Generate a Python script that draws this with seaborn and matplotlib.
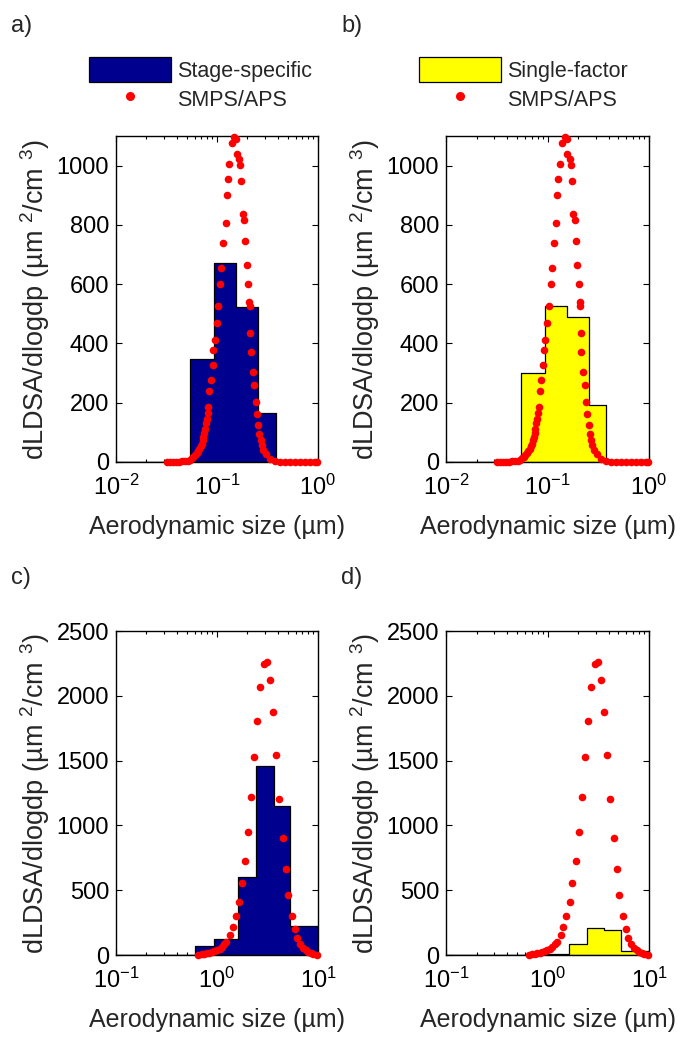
import numpy as np
import pandas as pd
import seaborn as sns
import matplotlib.pyplot as plt
from matplotlib.patches import Patch
from matplotlib.lines import Line2D
from matplotlib.ticker import LogLocator, NullFormatter

# ELPI+ stage cut-points (um) and stage-resolved dLDSA/dlogdp
stage_edges = [0.006, 0.0159, 0.0298, 0.0544, 0.0943, 0.154, 0.254, 0.380,
               0.600, 0.943, 1.62, 2.46, 3.64, 5.34, 10.0]
a_stage = [0, 0, 2, 346, 671, 522, 165, 2, 0, 0, 0, 0, 0, 0]
b_single = [0, 0, 2, 301, 528, 488, 191, 1, 0, 0, 0, 0, 0, 0]
c_stage = [0, 0, 0, 0, 0, 0, 0, 1, 69, 123, 599, 1457, 1148, 224]
d_single = [0, 0, 0, 0, 0, 0, 0, 1, 5, 10, 85, 206, 193, 33]

# SMPS/APS reference distributions
fine_dp = [0.0320, 0.0343, 0.0367, 0.0393, 0.0421, 0.0450, 0.0482, 0.0511, 0.0541,
           0.0562, 0.0583, 0.0605, 0.0629, 0.0649, 0.0669, 0.0687, 0.0706, 0.0719,
           0.0732, 0.0747, 0.0761, 0.0775, 0.0791, 0.0806, 0.0821, 0.0840, 0.0867,
           0.0906, 0.0920, 0.0955, 0.0993, 0.1030, 0.1071, 0.1096, 0.1155, 0.1219,
           0.1246, 0.1276, 0.1324, 0.1399, 0.1474, 0.1542, 0.1567, 0.1652, 0.1690,
           0.1729, 0.1796, 0.1850, 0.1906, 0.1968, 0.2028, 0.2089, 0.2113, 0.2123,
           0.2157, 0.2257, 0.2340, 0.2416, 0.2472, 0.2564, 0.2623, 0.2708, 0.2771,
           0.2873, 0.3055, 0.3347, 0.3752, 0.421, 0.471, 0.528, 0.592, 0.664,
           0.744, 0.834, 0.934, 0.985]
fine_dlds = [0, 0, 0, 1, 1, 2, 2, 5, 8,
             12, 17, 24, 30, 38, 45, 53, 62, 73,
             84, 98, 113, 130, 146, 165, 185, 239, 275,
             326, 379, 413, 469, 525, 599, 653, 739, 808,
             900, 956, 1004, 1078, 1097, 1091, 1040, 1024, 1003,
             947, 838, 816, 745, 664, 599, 541, 528, 436,
             371, 303, 259, 202, 163, 124, 96, 73, 56,
             39, 26, 11, 3, 1, 0, 0, 0, 0,
             0, 0, 0, 0]

coarse_dp = [0.6555, 0.7081, 0.75, 0.7939, 0.84, 0.8894, 0.94, 0.9966, 1.06,
             1.117, 1.18, 1.232, 1.349, 1.435, 1.536, 1.656, 1.761, 1.898,
             2.047, 2.176, 2.346, 2.511, 2.671, 2.925, 3.154, 3.354, 3.615,
             3.845, 4.117, 4.539, 4.793, 5.087, 5.495, 5.925, 6.244, 6.638,
             7.157, 7.6, 8.020, 8.5, 8.985, 9.707]
coarse_dlds = [1, 5, 9, 13, 19, 26, 32, 39, 50,
               64, 82, 103, 154, 218, 303, 406, 553, 725,
               946, 1220, 1524, 1806, 2068, 2249, 2261, 2120, 1876,
               1542, 1203, 904, 663, 463, 303, 200, 129, 82,
               52, 38, 26, 14, 5, 0]

panels = [
    ("a)", a_stage, fine_dp, fine_dlds, (0.01, 1), 1100, range(0, 1001, 200), "Stage-specific", "#00008f"),
    ("b)", b_single, fine_dp, fine_dlds, (0.01, 1), 1100, range(0, 1001, 200), "Single-factor", "#ffff00"),
    ("c)", c_stage, coarse_dp, coarse_dlds, (0.1, 10), 2500, range(0, 2501, 500), None, "#00008f"),
    ("d)", d_single, coarse_dp, coarse_dlds, (0.1, 10), 2500, range(0, 2501, 500), None, "#ffff00"),
]

sns.set_style("ticks")
plt.rcParams['font.family'] = ['Liberation Sans', 'DejaVu Sans']
plt.rcParams['mathtext.fontset'] = 'custom'
plt.rcParams['mathtext.rm'] = 'Liberation Sans'

W, H = 683, 1039
fig = plt.figure(figsize=(W / 100, H / 100), dpi=100)

# axes boxes in pixels: left, top, right, bottom
boxes = [(116, 136, 318, 462), (446, 136, 649, 462),
         (116, 631, 318, 955), (446, 631, 649, 955)]
label_pos = [(11, 26), (341, 26), (11, 578), (341, 578)]
legend_pos = [(89, 57), (419, 57)]

edges = np.array(stage_edges)
mids = np.sqrt(edges[:-1] * edges[1:])

for i, (tag, stage, dp, dlds, xlim, ymax, yticks, lab, col) in enumerate(panels):
    l, t, r, b = boxes[i]
    ax = fig.add_axes([l / W, 1 - b / H, (r - l) / W, (b - t) / H])
    df = pd.DataFrame({"dp": mids, "val": stage})
    sns.histplot(data=df, x="dp", weights="val", bins=list(stage_edges), element="step",
                 fill=True, color=col, edgecolor="black", linewidth=0.9, alpha=1,
                 ax=ax, zorder=2)
    ax.set_xscale("log")
    sns.scatterplot(x=dp, y=dlds, color="red", s=30, linewidth=0, ax=ax,
                    zorder=3, clip_on=False)
    ax.set_xlim(*xlim)
    ax.set_ylim(0, ymax)
    ax.set_yticks(list(yticks))
    ax.xaxis.set_major_locator(LogLocator(base=10, numticks=5))
    ax.xaxis.set_minor_locator(LogLocator(base=10, subs=np.arange(2, 10), numticks=20))
    ax.xaxis.set_minor_formatter(NullFormatter())
    ax.tick_params(which="both", direction="in", top=True, right=True, labelsize=17,
                   width=0.8, colors="black")
    ax.tick_params(which="major", length=4)
    ax.tick_params(axis="y", which="major", pad=5)
    ax.tick_params(axis="x", which="major", pad=9)
    ax.tick_params(which="minor", length=2.5)
    for s in ax.spines.values():
        s.set_linewidth(1.0)
        s.set_color("black")
    ax.set_xlabel("Aerodynamic size (µm)", fontsize=18, labelpad=11)
    ax.set_ylabel("dLDSA/dlogdp (µm $^{2}$/cm $^{3}$)", fontsize=19.5, labelpad=3)
    fig.text(label_pos[i][0] / W, 1 - label_pos[i][1] / H, tag, fontsize=17,
             va="center", ha="left")
    if lab is not None:
        lx, ly = legend_pos[i]
        handles = [Patch(facecolor=col, edgecolor="black", linewidth=0.9),
                   Line2D([], [], marker="o", color="red", linestyle="none", markersize=5.5)]
        fig.legend(handles, [lab, "SMPS/APS"], loc="upper left",
                   bbox_to_anchor=(lx / W, 1 - ly / H), frameon=False, fontsize=15.5,
                   handlelength=3.8, handleheight=1.4, handletextpad=0.3,
                   labelspacing=0.2, borderpad=0, borderaxespad=0)

fig.savefig("out.png", dpi=100)
